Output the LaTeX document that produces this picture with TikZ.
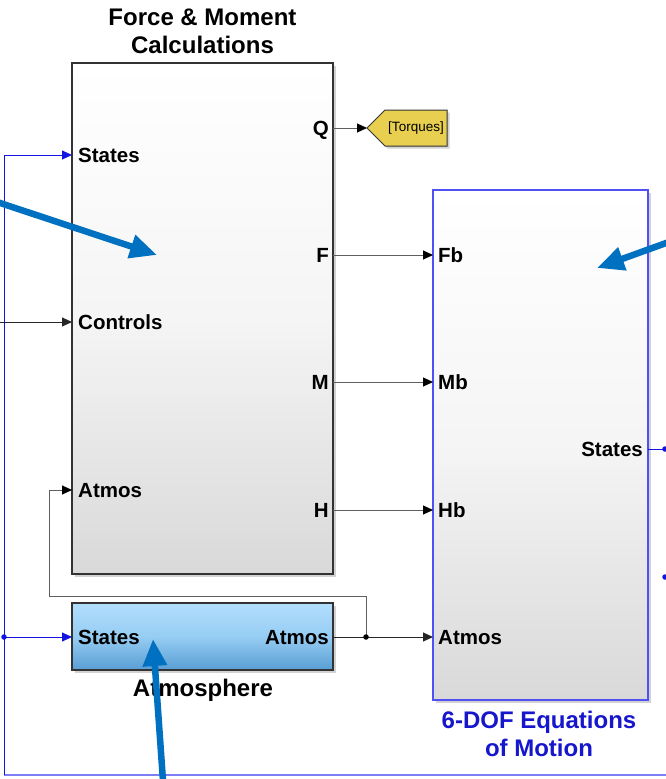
\documentclass[tikz,border=0pt]{standalone}
\usepackage{fontspec}
\setmainfont{Liberation Sans}
\usetikzlibrary{arrows.meta,shadows}

\definecolor{sigblue}{RGB}{20,20,225}
\definecolor{loopblue}{RGB}{125,125,245}
\definecolor{eomblue}{RGB}{80,80,245}
\definecolor{eomtext}{RGB}{22,22,205}
\definecolor{notecolor}{RGB}{0,112,192}
\definecolor{tagyellow}{RGB}{232,207,80}
\definecolor{wire}{RGB}{95,95,95}
\definecolor{atmtop}{RGB}{178,222,253}
\definecolor{atmmid}{RGB}{150,205,243}
\definecolor{atmbot}{RGB}{88,158,212}

\begin{document}
\begin{tikzpicture}[x=1pt,y=-1pt,
  shadowed/.style={drop shadow={shadow xshift=2.5pt,shadow yshift=-2.5pt,opacity=0.35}},
  block/.style={shadowed,draw=black!80,line width=1.2pt,inner sep=0pt,
    top color=white,bottom color=black!15,middle color=black!4},
  eomblock/.style={block,draw=eomblue,line width=1.5pt},
  atmblock/.style={shadowed,draw=black!80,line width=1.2pt,inner sep=0pt,
    top color=atmtop,bottom color=atmbot,middle color=atmmid},
  port/.style={font=\fontsize{20.5}{24}\selectfont\bfseries,inner sep=0pt,
    text height=14.7pt,text depth=0pt},
  title/.style={font=\fontsize{24}{28}\selectfont\bfseries,align=center,inner sep=0pt},
  wireline/.style={draw=wire,line width=1pt,-{Triangle[length=10pt,width=9pt,color=black]}},
  blkline/.style={draw=black!85,line width=1pt},
  sigline/.style={draw=sigblue,line width=1pt},
  sigarrow/.style={sigline,-{Triangle[length=10pt,width=9pt]}},
  junction/.style={circle,fill=#1,inner sep=0pt,minimum size=5.5pt},
  notearrow/.style={draw=notecolor,line width=6.5pt,-{Triangle[length=27pt,width=23pt]}}
]
\useasboundingbox (0,0) rectangle (666,779);
\clip (0,0) rectangle (666,779);
\fill[white] (0,0) rectangle (666,779);

% ---- blocks ----
\node[block,minimum width=261pt,minimum height=511pt] (fm) at (202.5,318.5) {};
\node[eomblock,minimum width=215pt,minimum height=510pt] (eom) at (540.5,445) {};
\node[atmblock,minimum width=261pt,minimum height=67pt] (atm) at (202.5,636.5) {};

% goto tag
\path[shadowed,draw=black!80,line width=1pt,fill=tagyellow]
  (367,128) -- (385,110) -- (447,110) -- (447,146) -- (385,146) -- cycle;
\node[font=\fontsize{13.5}{16}\selectfont,inner sep=0pt] (tag) at (416,128) {[Torques]};
\coordinate (tagTip) at (367,128);

% ---- block titles ----
\node[title] (fmTitle) at (202.5,31) {Force \& Moment\\Calculations};
\node[title] (atmTitle) at (203,690) {Atmosphere};
\node[title,text=eomtext] (eomTitle) at (539,734) {6-DOF Equations\\of Motion};

% ---- port points ----
\coordinate (fmS)  at (72,155);
\coordinate (fmC)  at (72,322);
\coordinate (fmA)  at (72,490);
\coordinate (fmQ)  at (333,128);
\coordinate (fmF)  at (333,255);
\coordinate (fmM)  at (333,382);
\coordinate (fmH)  at (333,510);
\coordinate (eomF) at (433,255);
\coordinate (eomM) at (433,382);
\coordinate (eomH) at (433,510);
\coordinate (eomA) at (433,637);
\coordinate (eomS) at (648,449);
\coordinate (atmS) at (72,637);
\coordinate (atmA) at (333,637);

% ---- port labels ----
\node[port,anchor=west] (lfmS) at (78,155) {States};
\node[port,anchor=west] (lfmC) at (78,322) {Controls};
\node[port,anchor=west] (lfmA) at (78,490) {Atmos};
\node[port,anchor=east] (lfmQ) at (329,128) {Q};
\node[port,anchor=east] (lfmF) at (329,255) {F};
\node[port,anchor=east] (lfmM) at (329,382) {M};
\node[port,anchor=east] (lfmH) at (329,510) {H};
\node[port,anchor=west] (leomF) at (438,255) {Fb};
\node[port,anchor=west] (leomM) at (438,382) {Mb};
\node[port,anchor=west] (leomH) at (438,510) {Hb};
\node[port,anchor=west] (leomA) at (438,637) {Atmos};
\node[port,anchor=east] (leomS) at (643,449) {States};
\node[port,anchor=west] (latmS) at (78,637) {States};
\node[port,anchor=east] (latmA) at (329,637) {Atmos};

% ---- signal lines ----
\draw[wireline] (fmQ) -- (tagTip);
\draw[wireline] (fmF) -- (eomF);
\draw[wireline] (fmM) -- (eomM);
\draw[wireline] (fmH) -- (eomH);

\coordinate (ctrlIn) at (-10,322);
\draw[blkline,-{Triangle[length=10pt,width=9pt]}] (ctrlIn) -- (fmC);

\coordinate (atmJ) at (366,637);
\coordinate (fbUp) at (366,596);
\coordinate (fbLeft) at (49,596);
\coordinate (fbTop) at (49,490);
\draw[blkline,-{Triangle[length=10pt,width=9pt]}] (atmA) -- (eomA);
\draw[wireline] (atmJ) -- (fbUp) -- (fbLeft) -- (fbTop) -- (fmA);
\node[junction=black] (atmDot) at (atmJ) {};

% states feedback loop
\coordinate (outJ) at (665,449);
\coordinate (outR) at (700,449);
\coordinate (sideJ) at (665,577);
\coordinate (sideR) at (700,577);
\coordinate (loopBR) at (700,775);
\coordinate (loopBL) at (4,775);
\coordinate (loopTL) at (4,155);
\coordinate (loopJ) at (4,637);
\draw[sigline] (eomS) -- (outR);
\draw[sigline] (sideJ) -- (sideR);
\draw[draw=loopblue,line width=1.2pt] (loopBR) -- (loopBL);
\draw[sigarrow] (loopBL) -- (loopTL) -- (fmS);
\draw[sigarrow] (loopJ) -- (atmS);
\node[junction=sigblue] (loopDot) at (loopJ) {};
\node[junction=sigblue] (outDot) at (outJ) {};
\node[junction=sigblue] (sideDot) at (sideJ) {};

% ---- callout arrows ----
\coordinate (n1s) at (-12,199);
\coordinate (n1e) at (157,255);
\coordinate (n2s) at (680,238);
\coordinate (n2e) at (597,268);
\coordinate (n3s) at (164,795);
\coordinate (n3e) at (153,639);
\draw[notearrow] (n1s) -- (n1e);
\draw[notearrow] (n2s) -- (n2e);
\draw[notearrow] (n3s) -- (n3e);
\end{tikzpicture}
\end{document}
